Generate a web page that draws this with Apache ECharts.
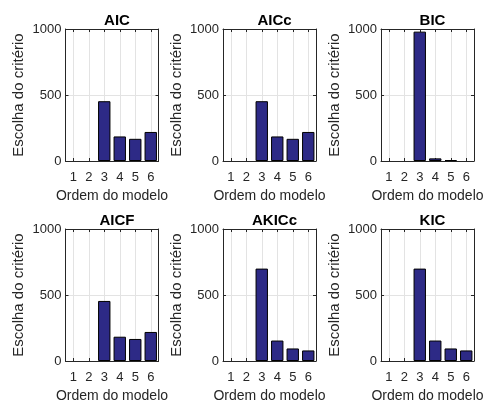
<!DOCTYPE html>
<html>
<head>
<meta charset="utf-8">
<script src="https://cdn.jsdelivr.net/npm/echarts@6/dist/echarts.min.js"></script>
<style>html,body{margin:0;padding:0;background:#fff;}#c{width:487px;height:405px;}</style>
</head>
<body>
<div id="c"></div>
<script>
const orders = [1, 2, 3, 4, 5, 6];
const yTicks = [0, 500, 1000];
const titles = ['AIC', 'AICc', 'BIC', 'AICF', 'AKICc', 'KIC'];
const aic   = [0, 0, 453, 186, 168, 220];
const aicc  = [0, 0, 453, 186, 168, 220];
const bic   = [0, 0, 980, 20, 7, 0];
const aicf  = [0, 0, 455, 184, 167, 220];
const akicc = [0, 0, 700, 155, 95, 80];
const kic   = [0, 0, 700, 155, 95, 80];
const seriesValues = [aic, aicc, bic, aicf, akicc, kic];
const xName = 'Ordem do modelo';
const yName = 'Escolha do critério';

const FONT = 'Arial, "Liberation Sans", Helvetica, sans-serif';
const AX = '#262626';
const lefts = [65.5, 223, 381];
const tops = [29, 229];
const W = 93, H = 132;

const option = { animation: false, backgroundColor: '#fff', title: [], grid: [], xAxis: [], yAxis: [], series: [] };

for (let i = 0; i < 6; i++) {
  const col = i % 3, row = Math.floor(i / 3);
  const left = lefts[col], top = tops[row];
  option.grid.push({ left: left, top: top, width: W, height: H, containLabel: false });
  option.title.push({
    text: titles[i], left: left + W / 2, top: top - 21, textAlign: 'center',
    textStyle: { fontFamily: FONT, fontSize: 15, fontWeight: 'bold', color: '#000' }
  });
  const tickStyle = { show: true, inside: true, length: 3, lineStyle: { color: AX, width: 1 }, customValues: orders };
  option.xAxis.push({
    type: 'value', gridIndex: i, min: 0.5, max: 6.5, position: 'bottom',
    name: xName, nameLocation: 'middle', nameGap: 28,
    nameTextStyle: { fontFamily: FONT, fontSize: 14, color: AX },
    axisLine: { show: true, onZero: false, lineStyle: { color: AX, width: 1 } },
    axisTick: tickStyle,
    axisLabel: { fontFamily: FONT, fontSize: 13, color: AX, margin: 10, customValues: orders },
    splitLine: { show: true, lineStyle: { color: '#e3e3e3', width: 1 } }
  });
  option.xAxis.push({
    type: 'value', gridIndex: i, min: 0.5, max: 6.5, position: 'top',
    axisLine: { show: true, onZero: false, lineStyle: { color: AX, width: 1 } },
    axisTick: tickStyle,
    axisLabel: { show: false, customValues: orders },
    splitLine: { show: false }
  });
  const yTickStyle = { show: true, inside: true, length: 3, lineStyle: { color: AX, width: 1 } };
  option.yAxis.push({
    type: 'value', gridIndex: i, min: 0, max: 1000, interval: 500, position: 'left',
    name: yName, nameLocation: 'middle', nameGap: 39,
    nameTextStyle: { fontFamily: FONT, fontSize: 15, color: AX },
    axisLine: { show: true, onZero: false, lineStyle: { color: AX, width: 1 } },
    axisTick: yTickStyle,
    axisLabel: { fontFamily: FONT, fontSize: 13, color: AX, margin: 4, formatter: v => String(v) },
    splitLine: { show: true, lineStyle: { color: '#e3e3e3', width: 1 } }
  });
  option.yAxis.push({
    type: 'value', gridIndex: i, min: 0, max: 1000, interval: 500, position: 'right',
    axisLine: { show: true, onZero: false, lineStyle: { color: AX, width: 1 } },
    axisTick: yTickStyle,
    axisLabel: { show: false },
    splitLine: { show: false }
  });
  option.series.push({
    type: 'bar', xAxisIndex: 2 * i, yAxisIndex: 2 * i, z: 3,
    data: orders.map((o, k) => {
      const v = seriesValues[i][k];
      return v === 0 ? { value: [o, v], itemStyle: { borderWidth: 0 } } : [o, v];
    }),
    barWidth: '80%',
    itemStyle: { color: '#2d2a86', borderColor: '#000', borderWidth: 1 },
    silent: true
  });
}

const chart = echarts.init(document.getElementById('c'), null, { renderer: 'canvas' });
chart.setOption(option);
</script>
</body>
</html>
